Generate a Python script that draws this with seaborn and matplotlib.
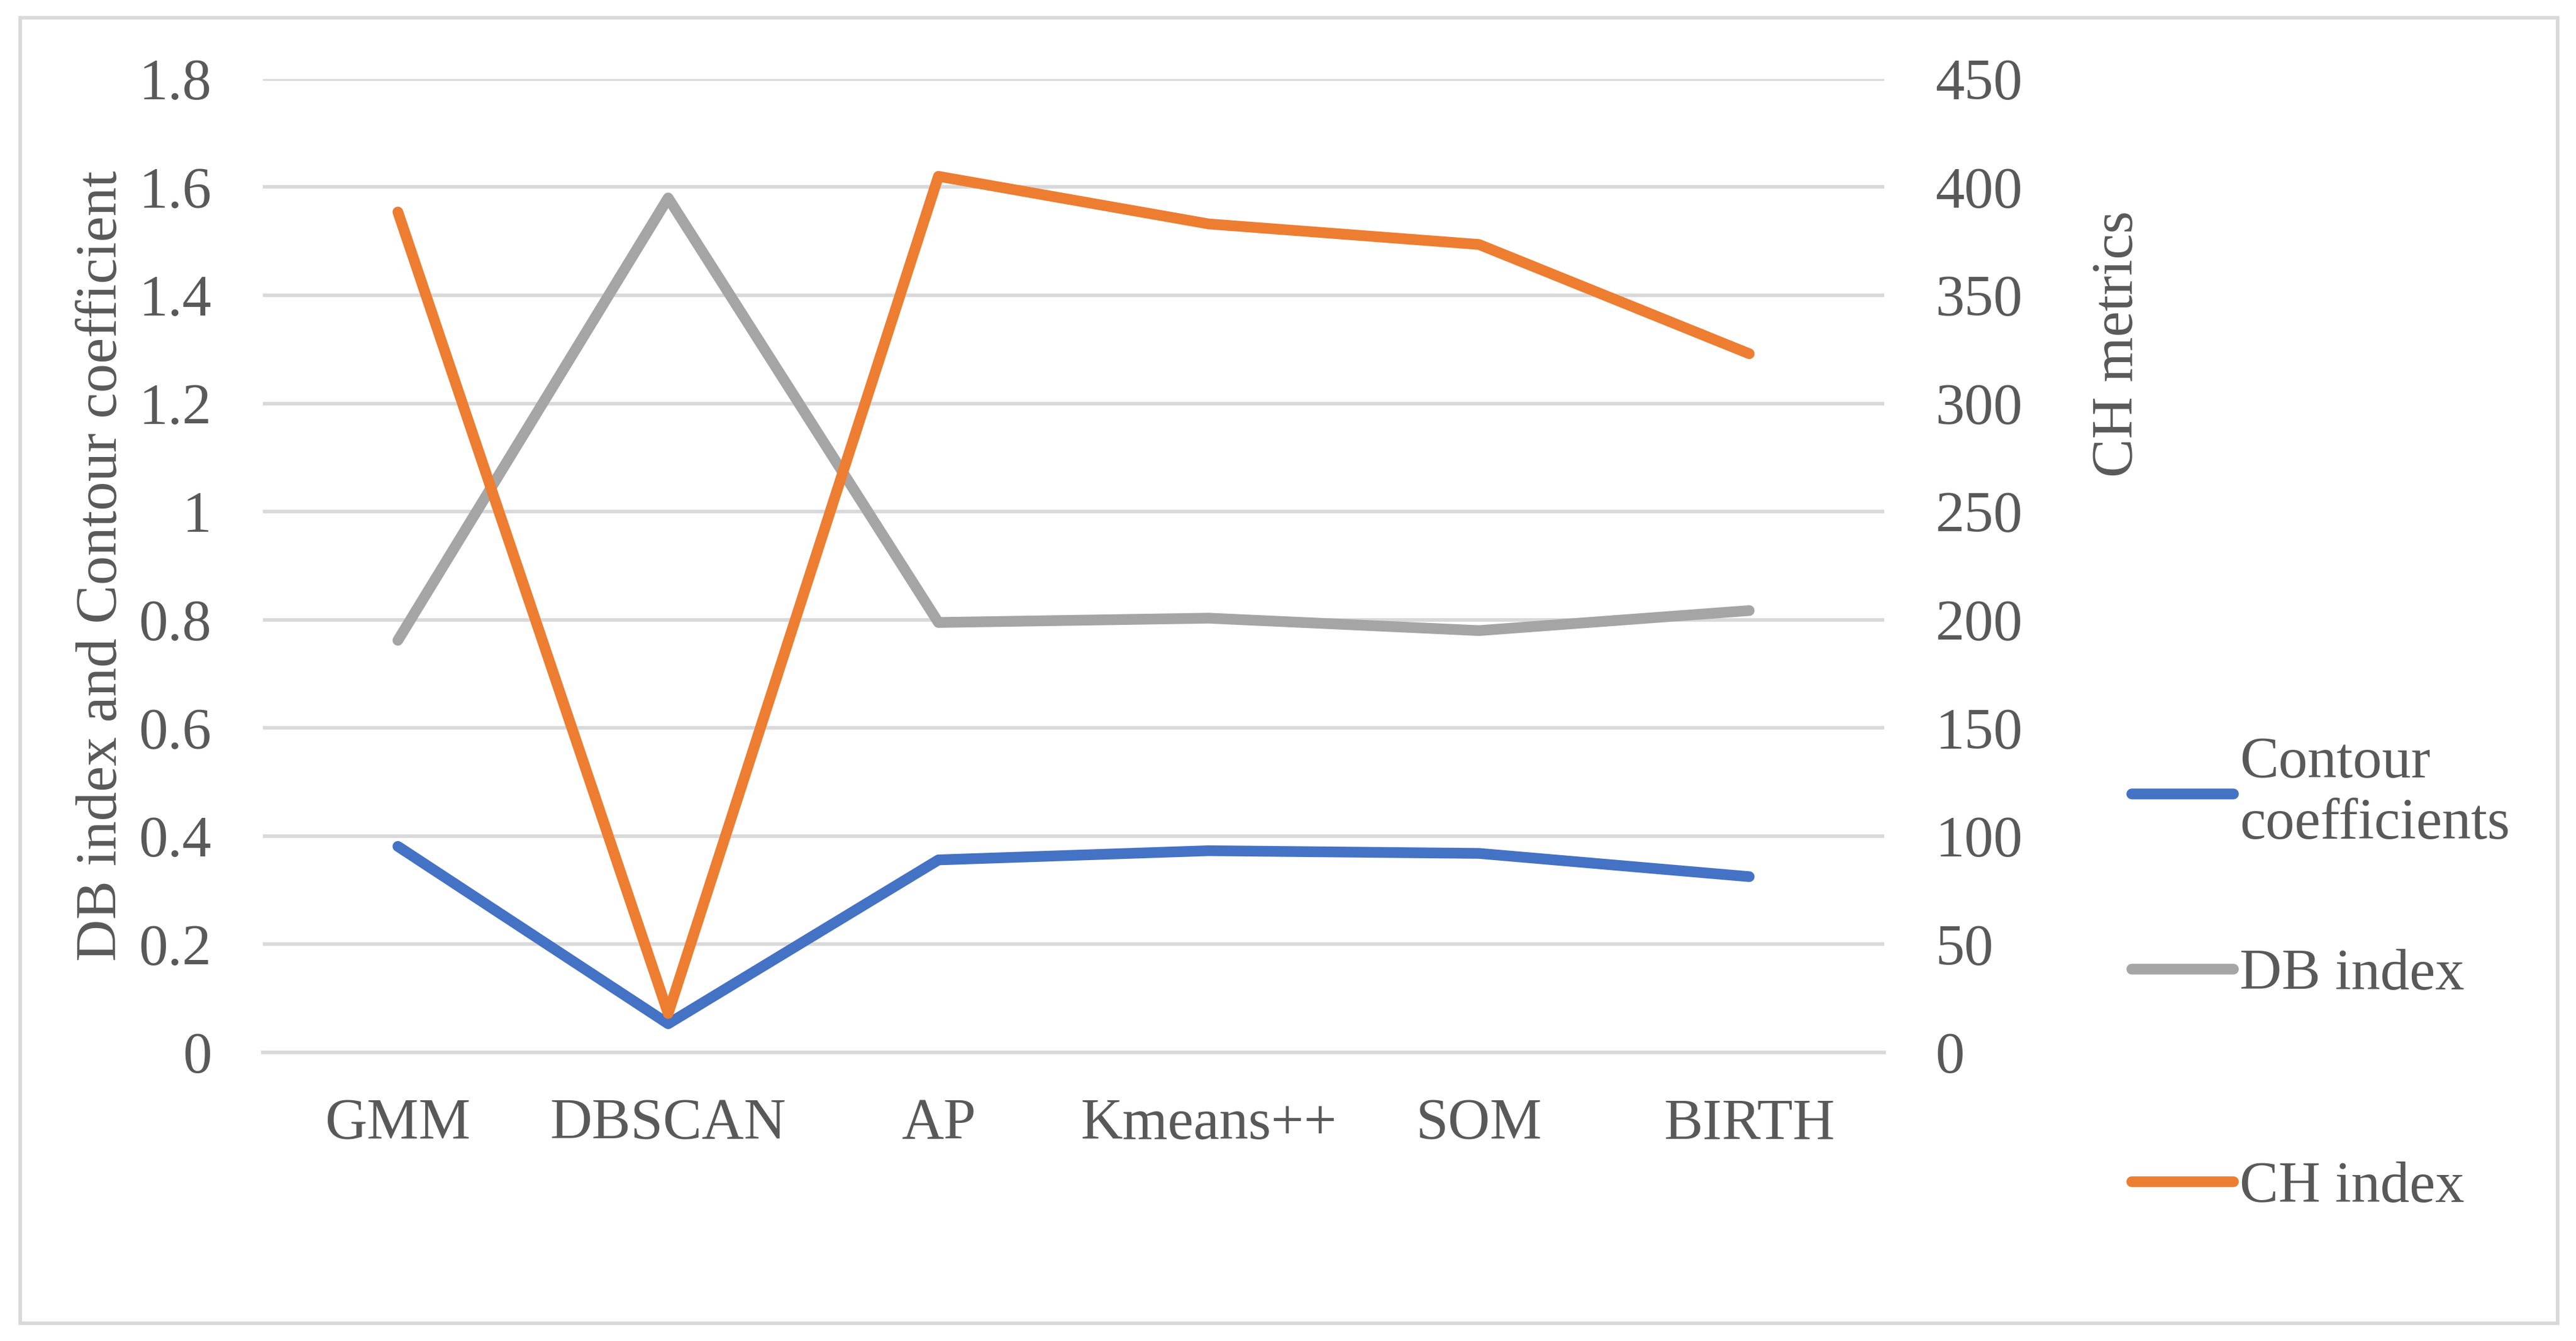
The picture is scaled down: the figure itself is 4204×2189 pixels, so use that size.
import numpy as np
import matplotlib.pyplot as plt
import pandas as pd
import seaborn as sns
from matplotlib.ticker import FixedLocator, FuncFormatter
from matplotlib.patches import Rectangle


CATEGORIES = ["GMM", "DBSCAN", "AP", "Kmeans++", "SOM", "BIRTH"]
CONTOUR = [0.381, 0.053, 0.356, 0.373, 0.368, 0.325]
DB_INDEX = [0.762, 1.580, 0.795, 0.803, 0.780, 0.817]
CH_INDEX = [388.5, 18.0, 405.0, 383.0, 373.5, 323.0]
LEFT_TICKS = [0, 0.2, 0.4, 0.6, 0.8, 1.0, 1.2, 1.4, 1.6, 1.8]
RIGHT_TICKS = [0, 50, 100, 150, 200, 250, 300, 350, 400, 450]

BLUE = "#4472C4"
GREY = "#A5A5A5"
ORANGE = "#ED7D31"
TEXT = "#595959"
GRID = "#D9D9D9"
FONT = ["Liberation Serif", "DejaVu Serif"]
FS = 22.8
LW = 4.2

sns.set_style("white")
plt.rcParams["font.family"] = FONT
plt.rcParams["font.serif"] = FONT

df = pd.DataFrame({"method": CATEGORIES, "contour": CONTOUR,
                   "db": DB_INDEX, "ch": CH_INDEX})

fig = plt.figure(figsize=(4204 / 300, 2189 / 300), dpi=300)
ax = fig.add_axes([0.1020, 0.2152, 0.6295, 0.7259])
ax2 = ax.twinx()

line_kw = dict(lw=LW, sort=False, legend=False,
               solid_capstyle="round", solid_joinstyle="round")
sns.lineplot(data=df, x="method", y="contour", ax=ax, color=BLUE,
             label="Contour\ncoefficients", **line_kw)
sns.lineplot(data=df, x="method", y="db", ax=ax, color=GREY,
             label="DB index", **line_kw)
sns.lineplot(data=df, x="method", y="ch", ax=ax2, color=ORANGE,
             label="CH index", **line_kw)

# left axis
ax.set_xlim(-0.5, len(CATEGORIES) - 0.5)
ax.set_ylim(LEFT_TICKS[0], LEFT_TICKS[-1])
ax.yaxis.set_major_locator(FixedLocator(LEFT_TICKS))
ax.yaxis.set_major_formatter(FuncFormatter(lambda v, p: f"{v:g}"))
ax.yaxis.grid(True, color=GRID, lw=1.4)
ax.set_axisbelow(True)
for s in ["top", "left", "right"]:
    ax.spines[s].set_visible(False)
ax.spines["bottom"].set_color(GRID)
ax.spines["bottom"].set_linewidth(1.4)
ax.tick_params(axis="y", length=0, pad=20, labelsize=FS, labelcolor=TEXT,
               labelfontfamily=FONT)
ax.tick_params(axis="x", which="major", length=0, pad=18,
               labelsize=FS, labelcolor=TEXT, labelfontfamily=FONT)
ax.xaxis.set_minor_locator(FixedLocator(np.arange(-0.5, len(CATEGORIES), 1)))
ax.tick_params(axis="x", which="minor", length=7, width=1.4,
               color=GRID, direction="out")
ax.set_xlabel("")
ax.set_ylabel("DB index and Contour coefficient", fontsize=FS, color=TEXT,
              family=FONT)
ax.yaxis.set_label_coords(-0.0828, 0.5)

# right axis
ax2.set_ylim(RIGHT_TICKS[0], RIGHT_TICKS[-1])
ax2.yaxis.set_major_locator(FixedLocator(RIGHT_TICKS))
ax2.grid(False)
for s in ax2.spines.values():
    s.set_visible(False)
ax2.tick_params(axis="y", length=0, pad=20, labelsize=FS, labelcolor=TEXT,
                labelfontfamily=FONT)
ax2.set_ylabel("CH metrics", fontsize=FS, color=TEXT, rotation=90,
               family=FONT)
ax2.yaxis.set_label_coords(1.128, 0.7275)

# legend: the two-line entry sits apart, like the Excel layout
handles, labels = [], []
for a in (ax, ax2):
    h, l = a.get_legend_handles_labels()
    handles += h
    labels += l
leg_kw = dict(loc="center left", frameon=False,
              prop={"family": FONT, "size": FS}, labelcolor=TEXT,
              handlelength=1.75, handletextpad=0.1, borderpad=0,
              borderaxespad=0)
fig.legend(handles[:1], labels[:1], bbox_to_anchor=(0.8276, 0.408),
           **leg_kw)
fig.legend(handles[1:], labels[1:], bbox_to_anchor=(0.8276, 0.1936),
           labelspacing=2.74, **leg_kw)

# chart border
fig.patches.append(Rectangle((0.00785, 0.01325), 0.985, 0.9735,
                             transform=fig.transFigure, fill=False,
                             edgecolor=GRID, lw=1.4))

fig.savefig("out.png", dpi=300, facecolor="white")
